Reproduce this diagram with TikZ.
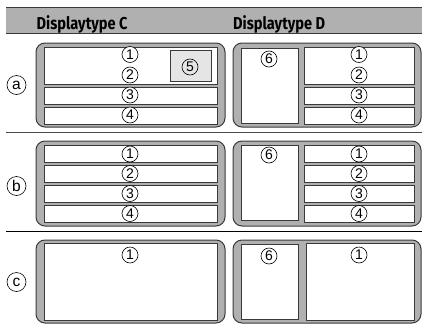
\documentclass[tikz,border=0pt]{standalone}
\usepackage{fontspec}
\setmainfont{Liberation Sans}
\newfontfamily\headfont[FakeStretch=0.85]{Fira Sans}
\definecolor{bandgray}{HTML}{B0B0B0}
\definecolor{linegray}{HTML}{3A3A3A}
\tikzset{
  panel/.style={draw=linegray,line width=1pt,fill=bandgray,rounded corners=9pt},
  cell/.style={draw=linegray,line width=1pt,fill=white},
  num/.style={circle,draw=black,line width=0.6pt,fill=white,inner sep=0pt,minimum size=16pt,font=\fontsize{14}{14}\selectfont},
  rowlabel/.style={circle,draw=black,line width=0.6pt,inner sep=0pt,minimum size=19pt,font=\fontsize{15.5}{15.5}\selectfont},
  head/.style={anchor=base west,inner sep=0pt,font=\headfont\bfseries\fontsize{17.2}{17.2}\selectfont,text=black}
}
\begin{document}
\begin{tikzpicture}[x=1pt,y=-1pt]
\useasboundingbox (0,0) rectangle (422,324);
\fill[white] (0,0) rectangle (422,324);
% header band
\fill[bandgray] (6,7) rectangle (422,33);
\draw[linegray,line width=1pt] (6,7) -- (422,7);
\draw[linegray,line width=1pt] (6,33) -- (422,33);
\node[head] (hc) at (36.5,29) {Displaytype C};
\node[head] (hd) at (233,29) {Displaytype D};
% separators
\draw[black!70,line width=0.7pt] (6,132) -- (422,132);
\draw[black,line width=0.8pt] (6,231) -- (422,231);
% row a
\draw[panel] (36,43) rectangle (225,127);
\draw[cell] (44,47) rectangle (217,84);
\draw[cell] (44,87) rectangle (217,104);
\draw[cell] (44,107) rectangle (217,124);
\draw[draw=linegray,line width=1pt,fill=black!10] (170,50) rectangle (211,81);
\draw[panel] (233,43) rectangle (421,127);
\draw[cell] (241,48) rectangle (298,123);
\draw[cell] (304,47) rectangle (414,84);
\draw[cell] (304,87) rectangle (414,104);
\draw[cell] (304,107) rectangle (414,124);
% row b
\draw[panel] (36,141) rectangle (225,226);
\draw[cell] (44,145) rectangle (217,162);
\draw[cell] (44,165) rectangle (217,182);
\draw[cell] (44,185) rectangle (217,202);
\draw[cell] (44,205) rectangle (217,222);
\draw[panel] (233,141) rectangle (421,226);
\draw[cell] (241,145) rectangle (298,220);
\draw[cell] (304,145) rectangle (414,162);
\draw[cell] (304,165) rectangle (414,182);
\draw[cell] (304,185) rectangle (414,202);
\draw[cell] (304,205) rectangle (414,222);
% row c
\draw[panel] (36,240) rectangle (225,323);
\draw[cell] (44,243) rectangle (217,320);
\draw[panel] (233,240) rectangle (421,323);
\draw[cell] (241,244) rectangle (298,319);
\draw[cell] (306,243) rectangle (414,320);
% row labels
\node[rowlabel] (la) at (16.5,85) {a};
\node[rowlabel] (lb) at (16.5,186) {b};
\node[rowlabel] (lc) at (16.5,282) {c};
% numbers
\node[num] (a1) at (130,54.5) {1};
\node[num] (a2) at (130,75) {2};
\node[num] (a3) at (130,95) {3};
\node[num] (a4) at (130,115) {4};
\node[num,fill=black!10] (a5) at (190,67) {5};
\node[num] (d6a) at (269,59) {6};
\node[num] (d1a) at (359,54.5) {1};
\node[num] (d2a) at (359,75) {2};
\node[num] (d3a) at (359,95) {3};
\node[num] (d4a) at (359,115) {4};
\node[num] (b1) at (130,154) {1};
\node[num] (b2) at (130,173.5) {2};
\node[num] (b3) at (130,193.5) {3};
\node[num] (b4) at (130,213.5) {4};
\node[num] (d6b) at (269,155) {6};
\node[num] (d1b) at (359,154) {1};
\node[num] (d2b) at (359,173.5) {2};
\node[num] (d3b) at (359,193.5) {3};
\node[num] (d4b) at (359,213.5) {4};
\node[num] (c1) at (130,255) {1};
\node[num] (d6c) at (269,256) {6};
\node[num] (d1c) at (359,255) {1};
\end{tikzpicture}
\end{document}
